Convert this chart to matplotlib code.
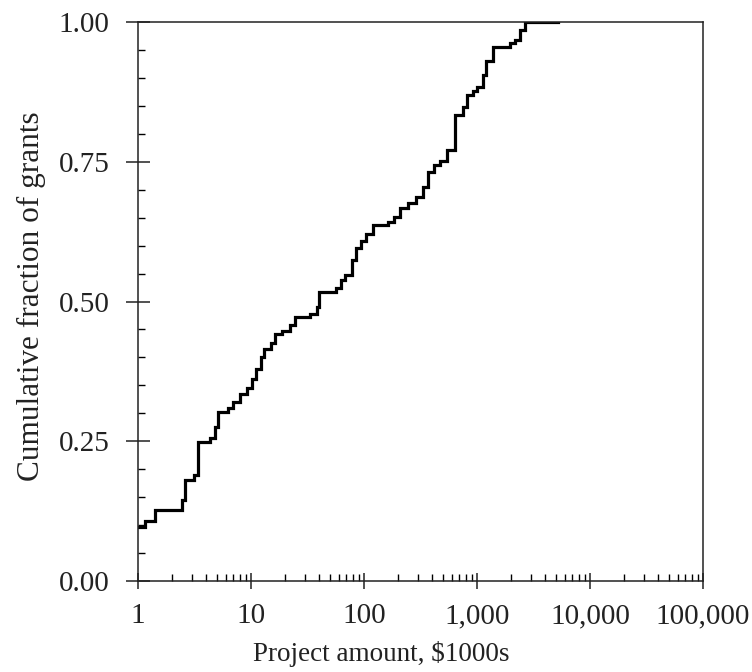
import matplotlib
matplotlib.use("Agg")
import matplotlib.pyplot as plt
from matplotlib.ticker import FixedLocator, LogLocator, NullFormatter, MultipleLocator

plt.rcParams['font.family'] = ['Liberation Serif', 'DejaVu Serif']

# Project amounts ($1000s) at which the cumulative fraction steps up
amounts = [1.0, 1.15, 1.4, 2.45, 2.6, 3.1, 3.4, 4.3, 4.8, 5.1, 6.3, 7.0, 8.0, 9.2,
           10.2, 11.0, 12.2, 13.0, 15.0, 16.3, 19.0, 22.0, 24.5, 33.0, 38.0, 40.0,
           57.0, 62.0, 68.0, 78.0, 85.0, 95.0, 105.0, 120.0, 163.0, 185.0, 208.0,
           244.0, 290.0, 333.0, 370.0, 420.0, 470.0, 540.0, 640.0, 755.0, 820.0,
           923.0, 1000.0, 1120.0, 1200.0, 1390.0, 1970.0, 2150.0, 2410.0, 2670.0,
           5200.0]
cum_fraction = [0.097, 0.108, 0.127, 0.145, 0.18, 0.19, 0.248, 0.256, 0.275, 0.302,
                0.31, 0.32, 0.335, 0.345, 0.362, 0.38, 0.40, 0.415, 0.425, 0.442,
                0.448, 0.458, 0.472, 0.478, 0.49, 0.517, 0.524, 0.538, 0.548, 0.575,
                0.595, 0.608, 0.62, 0.637, 0.643, 0.652, 0.667, 0.677, 0.687, 0.705,
                0.732, 0.745, 0.752, 0.771, 0.834, 0.848, 0.869, 0.876, 0.884, 0.905,
                0.93, 0.955, 0.962, 0.968, 0.985, 1.0, 1.0]

x_ticks = [1, 10, 100, 1000, 10000, 100000]
x_ticklabels = ["1", "10", "100", "1,000", "10,000", "100,000"]
y_ticks = [0.0, 0.25, 0.5, 0.75, 1.0]
y_ticklabels = ["0.00", "0.25", "0.50", "0.75", "1.00"]

fig = plt.figure(figsize=(7.52, 6.72), dpi=100)
ax = fig.add_axes([138/752, 91/672, 565/752, 559/672])

ax.step(amounts, cum_fraction, where='post', color='black', lw=2.3,
        solid_joinstyle='miter')

ax.set_xscale('log')
ax.set_xlim(1, 100000)
ax.set_ylim(0, 1)

ax.xaxis.set_major_locator(FixedLocator(x_ticks))
ax.set_xticklabels(x_ticklabels)
ax.xaxis.set_minor_locator(LogLocator(base=10, subs=range(2, 10)))
ax.xaxis.set_minor_formatter(NullFormatter())
ax.set_yticks(y_ticks)
ax.set_yticklabels(y_ticklabels)
ax.yaxis.set_minor_locator(MultipleLocator(0.05))

for s in ax.spines.values():
    s.set_linewidth(1.1)
    s.set_color('#222222')

ax.tick_params(axis='y', which='major', direction='inout', length=17, width=1.1,
               labelsize=21, pad=12, colors='#222222')
ax.tick_params(axis='y', which='minor', direction='in', length=5, width=1.0)
ax.tick_params(axis='x', which='major', direction='inout', length=12, width=1.1,
               labelsize=21, pad=10, colors='#222222')
ax.tick_params(axis='x', which='minor', direction='in', length=5, width=1.0)

ax.set_xlabel("Project amount, $1000s", fontsize=19.5, color='#222222')
ax.set_ylabel("Cumulative fraction of grants", fontsize=22.5, color='#222222')
ax.xaxis.set_label_coords(0.431, -0.108)
ax.yaxis.set_label_coords(-0.162, 0.51)

fig.savefig("out.png", dpi=100)
